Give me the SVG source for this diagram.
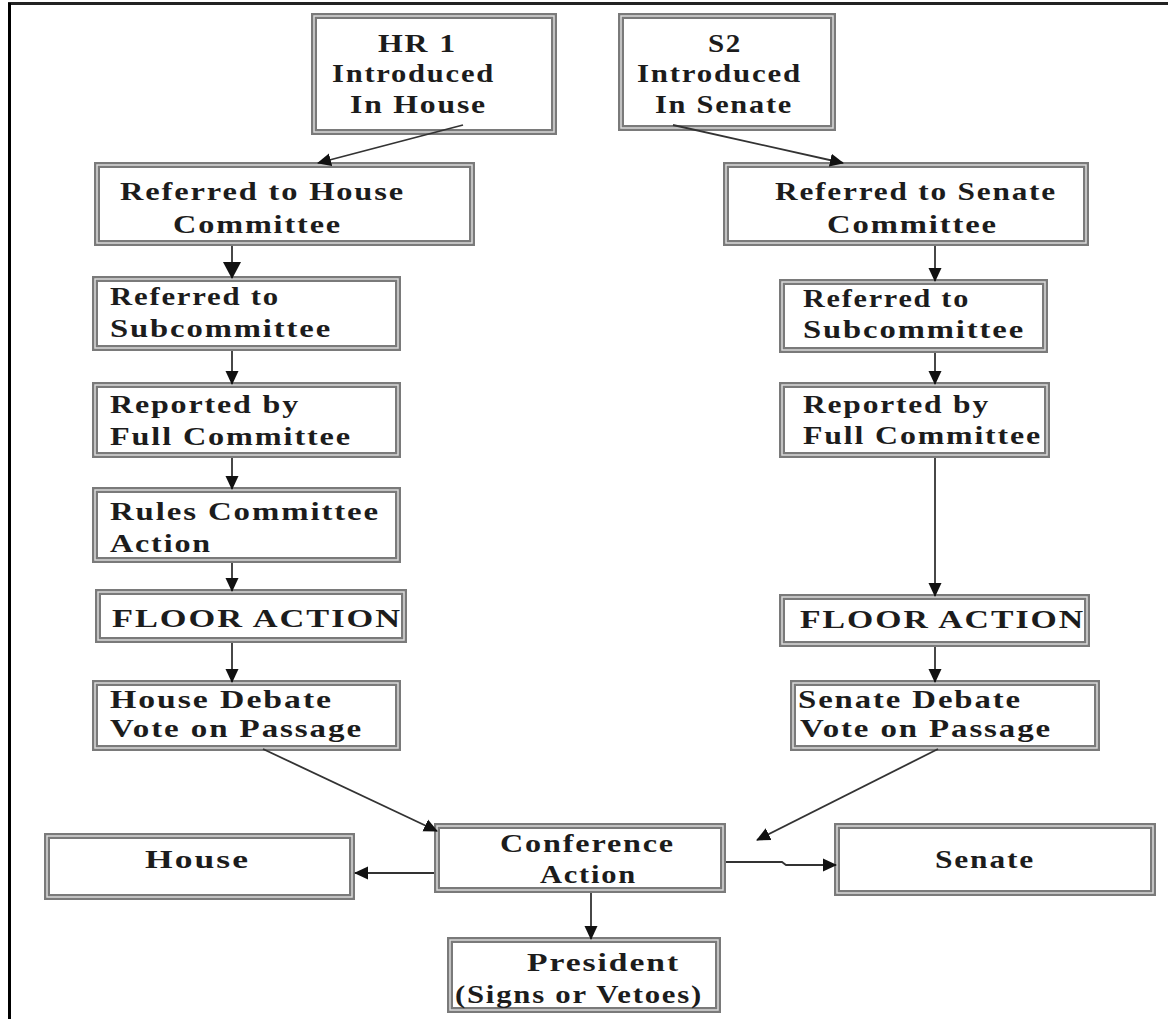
<svg xmlns="http://www.w3.org/2000/svg" width="1168" height="1019" viewBox="0 0 1168 1019">
<defs>
<style>
.box-o{fill:#fff;stroke:#7a7a7a;stroke-width:6}
.box-i{fill:none;stroke:#dadada;stroke-width:1.5}
.t{font-family:"Liberation Serif","Times New Roman",serif;font-weight:bold;font-size:26px;fill:#1c1c1c;letter-spacing:1.5px}
.c{fill:none;stroke:#333;stroke-width:1.8}
</style>
<marker id="ah" markerWidth="14" markerHeight="14" refX="13" refY="7" orient="auto" markerUnits="userSpaceOnUse">
<path d="M0,0.5 L14,7 L0,13.5 Z" fill="#111"/>
</marker>
<marker id="ahb" markerWidth="18" markerHeight="18" refX="16" refY="9" orient="auto" markerUnits="userSpaceOnUse">
<path d="M0,0 L17,9 L0,18 Z" fill="#111"/>
</marker>
</defs>
<rect width="1168" height="1019" fill="#fff"/>
<line x1="8" y1="3.5" x2="1168" y2="3.5" stroke="#222" stroke-width="3"/>
<line x1="9.5" y1="3" x2="9.5" y2="1019" stroke="#000" stroke-width="3"/>

<g id="hr1"><rect class="box-o" x="314" y="16" width="240" height="116"/><rect class="box-i" x="314" y="16" width="240" height="116"/>
<text class="t" x="378" y="52" textLength="79" lengthAdjust="spacingAndGlyphs">HR 1</text>
<text class="t" x="332" y="82" textLength="163" lengthAdjust="spacingAndGlyphs">Introduced</text>
<text class="t" x="350" y="113" textLength="137" lengthAdjust="spacingAndGlyphs">In House</text></g>

<g id="s2"><rect class="box-o" x="621" y="16" width="212" height="112"/><rect class="box-i" x="621" y="16" width="212" height="112"/>
<text class="t" x="708" y="52" textLength="34" lengthAdjust="spacingAndGlyphs">S2</text>
<text class="t" x="637" y="82" textLength="165" lengthAdjust="spacingAndGlyphs">Introduced</text>
<text class="t" x="655" y="113" textLength="138" lengthAdjust="spacingAndGlyphs">In Senate</text></g>

<g id="refHouse"><rect class="box-o" x="97" y="165" width="375" height="78"/><rect class="box-i" x="97" y="165" width="375" height="78"/>
<text class="t" x="120" y="200" textLength="285" lengthAdjust="spacingAndGlyphs">Referred to House</text>
<text class="t" x="173" y="233" textLength="169" lengthAdjust="spacingAndGlyphs">Committee</text></g>

<g id="refSenate"><rect class="box-o" x="726" y="165" width="360" height="78"/><rect class="box-i" x="726" y="165" width="360" height="78"/>
<text class="t" x="775" y="200" textLength="282" lengthAdjust="spacingAndGlyphs">Referred to Senate</text>
<text class="t" x="827" y="233" textLength="171" lengthAdjust="spacingAndGlyphs">Committee</text></g>

<g id="subL"><rect class="box-o" x="95" y="279" width="303" height="69"/><rect class="box-i" x="95" y="279" width="303" height="69"/>
<text class="t" x="110" y="305" textLength="170" lengthAdjust="spacingAndGlyphs">Referred to</text>
<text class="t" x="110" y="337" textLength="222" lengthAdjust="spacingAndGlyphs">Subcommittee</text></g>

<g id="subR"><rect class="box-o" x="782" y="282" width="263" height="68"/><rect class="box-i" x="782" y="282" width="263" height="68"/>
<text class="t" x="803" y="307" textLength="167" lengthAdjust="spacingAndGlyphs">Referred to</text>
<text class="t" x="803" y="338" textLength="222" lengthAdjust="spacingAndGlyphs">Subcommittee</text></g>

<g id="repL"><rect class="box-o" x="95" y="385" width="303" height="70"/><rect class="box-i" x="95" y="385" width="303" height="70"/>
<text class="t" x="110" y="413" textLength="190" lengthAdjust="spacingAndGlyphs">Reported by</text>
<text class="t" x="110" y="445" textLength="242" lengthAdjust="spacingAndGlyphs">Full Committee</text></g>

<g id="repR"><rect class="box-o" x="782" y="385" width="265" height="70"/><rect class="box-i" x="782" y="385" width="265" height="70"/>
<text class="t" x="803" y="413" textLength="187" lengthAdjust="spacingAndGlyphs">Reported by</text>
<text class="t" x="803" y="444" textLength="239" lengthAdjust="spacingAndGlyphs">Full Committee</text></g>

<g id="rules"><rect class="box-o" x="95" y="490" width="303" height="70"/><rect class="box-i" x="95" y="490" width="303" height="70"/>
<text class="t" x="110" y="520" textLength="270" lengthAdjust="spacingAndGlyphs">Rules Committee</text>
<text class="t" x="110" y="552" textLength="102" lengthAdjust="spacingAndGlyphs">Action</text></g>

<g id="floorL"><rect class="box-o" x="98" y="592" width="306" height="48"/><rect class="box-i" x="98" y="592" width="306" height="48"/>
<text class="t" x="112" y="627" textLength="290" lengthAdjust="spacingAndGlyphs">FLOOR ACTION</text></g>

<g id="floorR"><rect class="box-o" x="782" y="597" width="305" height="47"/><rect class="box-i" x="782" y="597" width="305" height="47"/>
<text class="t" x="800" y="628" textLength="285" lengthAdjust="spacingAndGlyphs">FLOOR ACTION</text></g>

<g id="debL"><rect class="box-o" x="95" y="683" width="303" height="65"/><rect class="box-i" x="95" y="683" width="303" height="65"/>
<text class="t" x="110" y="708" textLength="223" lengthAdjust="spacingAndGlyphs">House Debate</text>
<text class="t" x="110" y="737" textLength="253" lengthAdjust="spacingAndGlyphs">Vote on Passage</text></g>

<g id="debR"><rect class="box-o" x="793" y="683" width="304" height="65"/><rect class="box-i" x="793" y="683" width="304" height="65"/>
<text class="t" x="798" y="708" textLength="224" lengthAdjust="spacingAndGlyphs">Senate Debate</text>
<text class="t" x="800" y="737" textLength="252" lengthAdjust="spacingAndGlyphs">Vote on Passage</text></g>

<g id="conf"><rect class="box-o" x="437" y="826" width="286" height="64"/><rect class="box-i" x="437" y="826" width="286" height="64"/>
<text class="t" x="500" y="852" textLength="175" lengthAdjust="spacingAndGlyphs">Conference</text>
<text class="t" x="540" y="883" textLength="97" lengthAdjust="spacingAndGlyphs">Action</text></g>

<g id="house"><rect class="box-o" x="47" y="836" width="305" height="61"/><rect class="box-i" x="47" y="836" width="305" height="61"/>
<text class="t" x="145" y="868" textLength="105" lengthAdjust="spacingAndGlyphs">House</text></g>

<g id="senate"><rect class="box-o" x="837" y="826" width="316" height="67"/><rect class="box-i" x="837" y="826" width="316" height="67"/>
<text class="t" x="935" y="868" textLength="100" lengthAdjust="spacingAndGlyphs">Senate</text></g>

<g id="president"><rect class="box-o" x="450" y="940" width="268" height="70"/><rect class="box-i" x="450" y="940" width="268" height="70"/>
<text class="t" x="527" y="971" textLength="153" lengthAdjust="spacingAndGlyphs">President</text>
<text class="t" x="455" y="1003" textLength="248" lengthAdjust="spacingAndGlyphs">(Signs or Vetoes)</text></g>

<g id="connectors">
<line class="c" x1="463" y1="125" x2="318" y2="163" marker-end="url(#ah)"/>
<line class="c" x1="673" y1="125" x2="843" y2="163" marker-end="url(#ah)"/>
<line class="c" x1="232" y1="246" x2="232" y2="278" marker-end="url(#ahb)"/>
<line class="c" x1="232" y1="351" x2="232" y2="384" marker-end="url(#ah)"/>
<line class="c" x1="232" y1="458" x2="232" y2="489" marker-end="url(#ah)"/>
<line class="c" x1="232" y1="563" x2="232" y2="591" marker-end="url(#ah)"/>
<line class="c" x1="232" y1="643" x2="232" y2="682" marker-end="url(#ah)"/>
<line class="c" x1="935" y1="246" x2="935" y2="281" marker-end="url(#ah)"/>
<line class="c" x1="935" y1="353" x2="935" y2="384" marker-end="url(#ah)"/>
<line class="c" x1="935" y1="458" x2="935" y2="596" marker-end="url(#ah)"/>
<line class="c" x1="935" y1="647" x2="935" y2="682" marker-end="url(#ah)"/>
<line class="c" x1="263" y1="749" x2="437" y2="831" marker-end="url(#ah)"/>
<line class="c" x1="938" y1="749" x2="757" y2="840" marker-end="url(#ah)"/>
<line class="c" x1="434" y1="873" x2="355" y2="873" marker-end="url(#ah)"/>
<polyline class="c" points="726,862 782,862 786,865 836,865" marker-end="url(#ah)"/>
<line class="c" x1="591" y1="893" x2="591" y2="939" marker-end="url(#ah)"/>
</g>
</svg>
